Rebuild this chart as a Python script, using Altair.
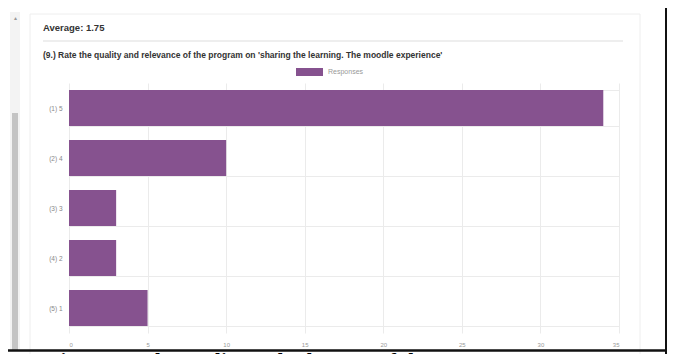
import altair as alt
import pandas as pd

# ---- data ----
categories = ["(1) 5", "(2) 4", "(3) 3", "(4) 2", "(5) 1"]
responses = [34, 10, 3, 3, 5]
x_ticks = [0, 5, 10, 15, 20, 25, 30, 35]
average_text = "Average: 1.75"
question_text = "(9.) Rate the quality and relevance of the program on 'sharing the learning. The moodle experience'"
legend_label = "Responses"
caption_text = "Question: Rate the quality and relevance of the program"

PURPLE = "#86528f"
GRID = "#ebebeb"

df = pd.DataFrame({"category": categories, "responses": responses})
one = pd.DataFrame({"k": [0]})

bars = alt.Chart(df).mark_bar(color=PURPLE).encode(
    x=alt.X(
        "responses:Q",
        scale=alt.Scale(domain=[0, 35], nice=False, zero=True),
        axis=alt.Axis(values=x_ticks, title=None, grid=True, gridColor=GRID,
                      domain=False, ticks=False, labelFontSize=6,
                      labelColor="#999999", labelPadding=8, labelFont="Liberation Sans"),
    ),
    y=alt.Y(
        "category:N", sort=categories,
        scale=alt.Scale(paddingInner=0.28, paddingOuter=0.14),
        axis=alt.Axis(title=None, domain=False, ticks=False, grid=True,
                      tickBand="extent", gridColor=GRID, labelFontSize=6.5,
                      labelColor="#888888", labelPadding=7, labelFont="Liberation Sans"),
    ),
)

base = alt.Chart(one)

# decorative frame pieces (positions relative to plot origin)
card = base.mark_rect(fillOpacity=0, stroke="#eeeeee", strokeWidth=1).encode(
    x=alt.value(-39), x2=alt.value(571), y=alt.value(-69), y2=alt.value(277))
track = base.mark_rect(fill="#f3f3f3").encode(
    x=alt.value(-59), x2=alt.value(-49), y=alt.value(-71), y2=alt.value(267))
thumb = base.mark_rect(fill="#c4c4c4").encode(
    x=alt.value(-57), x2=alt.value(-51), y=alt.value(30), y2=alt.value(267))
arrow = base.mark_text(text="▴", fontSize=6, color="#999999", align="center",
                       baseline="middle").encode(x=alt.value(-54), y=alt.value(-65))
right_border = base.mark_rule(color="#111111", strokeWidth=2).encode(
    x=alt.value(597), y=alt.value(-79), y2=alt.value(285))
bottom_border = base.mark_rule(color="#111111", strokeWidth=2.5).encode(
    x=alt.value(-75), x2=alt.value(597), y=alt.value(267.5))

title = base.mark_text(text=average_text, fontSize=9.5, fontWeight="bold", color="#333333",
                       align="left", baseline="middle", font="Liberation Sans").encode(
    x=alt.value(-26), y=alt.value(-55))
sep = base.mark_rule(color="#dddddd", strokeWidth=1).encode(
    x=alt.value(-26), x2=alt.value(554), y=alt.value(-42))
subtitle = base.mark_text(text=question_text, fontSize=8.5, fontWeight="bold", color="#333333",
                          align="left", baseline="middle", font="Liberation Sans").encode(
    x=alt.value(-26), y=alt.value(-28))
swatch = base.mark_rect(fill=PURPLE).encode(
    x=alt.value(227), x2=alt.value(254), y=alt.value(-15), y2=alt.value(-7))
legend_text = base.mark_text(text=legend_label, fontSize=7, color="#999999",
                             align="left", baseline="middle", font="Liberation Sans").encode(
    x=alt.value(259), y=alt.value(-11))
caption = base.mark_text(text=caption_text, fontSize=21, fontWeight="bold", color="#000000",
                         align="left", baseline="alphabetic", font="Liberation Serif").encode(
    x=alt.value(-61), y=alt.value(285))

chart = alt.layer(
    card, track, thumb, arrow, bars, title, sep, subtitle, swatch, legend_text,
    right_border, bottom_border, caption,
).properties(
    width=550, height=250,
    padding={"left": 61, "top": 75, "right": 50, "bottom": 21},
    autosize=alt.AutoSizeParams(type="none"),
    background="white",
).configure_view(stroke=None)

chart.save("out.html", embed_options={"renderer": "svg", "actions": False})
